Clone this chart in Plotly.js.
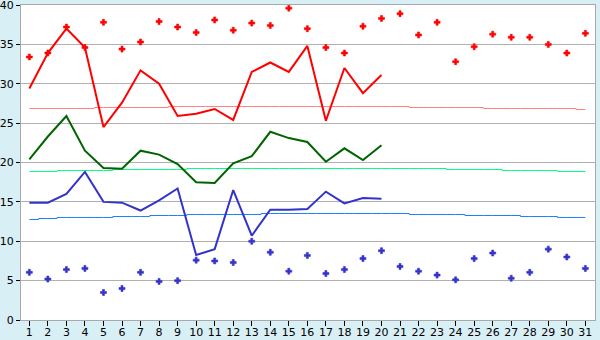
<!DOCTYPE html>
<html>
<head>
<meta charset="utf-8">
<script src="https://cdn.plot.ly/plotly-3.0.1.min.js"></script>
<style>
  html, body { margin: 0; padding: 0; background: #d9eff6; }
  #chart { width: 600px; height: 340px; }
</style>
</head>
<body>
<div id="chart"></div>
<script>
const days = [1,2,3,4,5,6,7,8,9,10,11,12,13,14,15,16,17,18,19,20,21,22,23,24,25,26,27,28,29,30,31];
const lineDays = [1,2,3,4,5,6,7,8,9,10,11,12,13,14,15,16,17,18,19,20];

// daily max line (red), mean line (green), min line (blue) for days 1-20
const maxLine = [29.4,33.9,37.0,34.6,24.5,27.6,31.7,30.0,25.9,26.2,26.8,25.4,31.5,32.7,31.5,34.8,25.3,32.0,28.8,31.1];
const meanLine = [20.4,23.3,25.9,21.5,19.3,19.2,21.5,21.0,19.8,17.5,17.4,19.9,20.8,23.9,23.1,22.6,20.1,21.8,20.3,22.2];
const minLine = [14.9,14.9,16.0,18.8,15.0,14.9,13.9,15.2,16.7,8.25,9.0,16.5,10.7,14.0,14.0,14.1,16.3,14.8,15.5,15.4];

// record-like markers for all 31 days
const maxPoints = [33.4,33.9,37.2,34.6,37.8,34.4,35.3,37.9,37.2,36.5,38.1,36.8,37.7,37.4,39.6,37.0,34.6,33.9,37.3,38.3,38.9,36.2,37.8,32.8,34.7,36.3,35.9,35.9,35.0,33.9,36.4];
const minPoints = [6.05,5.2,6.4,6.55,3.5,4.0,6.05,4.9,5.0,7.6,7.5,7.3,10.0,8.6,6.2,8.2,5.9,6.4,7.8,8.8,6.8,6.2,5.7,5.1,7.8,8.5,5.3,6.05,9.0,8.0,6.55];

// normal curves
const normalMax = [26.86,26.86,26.86,26.86,26.98,26.98,26.98,26.98,27.11,27.11,27.11,27.11,27.11,27.11,27.11,27.11,27.11,27.11,27.11,27.11,27.11,26.98,26.98,26.98,26.98,26.86,26.86,26.86,26.86,26.86,26.73];
const normalMean = [18.86,18.86,18.98,18.98,18.98,19.11,19.11,19.11,19.11,19.24,19.24,19.24,19.24,19.24,19.24,19.24,19.24,19.24,19.24,19.24,19.24,19.24,19.24,19.11,19.11,19.11,18.98,18.98,18.98,18.86,18.86];
const normalMin = [12.76,12.89,13.02,13.02,13.02,13.14,13.14,13.27,13.27,13.40,13.40,13.40,13.40,13.52,13.52,13.52,13.52,13.52,13.52,13.52,13.52,13.40,13.40,13.40,13.27,13.27,13.27,13.14,13.14,13.02,13.02];

const tickLabels = days.map(String);

const traces = [
  {x: days, y: normalMax, mode: 'lines', line: {color: '#ff8080', width: 1, shape: 'hvh'}, hoverinfo: 'skip'},
  {x: days, y: normalMean, mode: 'lines', line: {color: '#00ff80', width: 1, shape: 'hvh'}, hoverinfo: 'skip'},
  {x: days, y: normalMin, mode: 'lines', line: {color: '#1e7cff', width: 1, shape: 'hvh'}, hoverinfo: 'skip'},
  {x: lineDays, y: maxLine, mode: 'lines', line: {color: '#ff0000', width: 2}},
  {x: lineDays, y: meanLine, mode: 'lines', line: {color: '#006400', width: 2}},
  {x: lineDays, y: minLine, mode: 'lines', line: {color: '#3333cc', width: 2}},
  {x: days, y: maxPoints, mode: 'markers', marker: {color: '#ff0000', symbol: 'cross', size: 5, line: {width: 0.6, color: '#ff0000'}}},
  {x: days, y: minPoints, mode: 'markers', marker: {color: '#3333cc', symbol: 'cross', size: 5, line: {width: 0.6, color: '#3333cc'}}}
];

const layout = {
  width: 600, height: 340,
  margin: {l: 21, r: 5, t: 5, b: 20, pad: 0},
  paper_bgcolor: '#d9eff6',
  plot_bgcolor: '#ffffff',
  showlegend: false,
  font: {family: 'DejaVu Sans, Verdana, sans-serif', size: 11, color: '#000000'},
  xaxis: {
    range: [0.55, 31.52],
    tickmode: 'array', tickvals: days, ticktext: tickLabels,
    showgrid: false, zeroline: false,
    showline: true, linecolor: '#a8a8a8', linewidth: 1, mirror: true,
    ticks: 'outside', ticklen: 5, tickcolor: '#000000', tickwidth: 1,
    ticklabelstandoff: -3,
    ticklabeloverflow: 'allow',
    tickfont: {size: 11}
  },
  yaxis: {
    range: [0, 40], dtick: 5, tick0: 0,
    showgrid: true, gridcolor: '#b0b0b0', gridwidth: 1,
    zeroline: false,
    showline: true, linecolor: '#a8a8a8', linewidth: 1, mirror: true,
    ticks: 'outside', ticklen: 4, tickcolor: '#000000', tickwidth: 1,
    ticklabeloverflow: 'allow',
    tickfont: {size: 11}
  }
};

Plotly.newPlot('chart', traces, layout, {staticPlot: true, displayModeBar: false});
</script>
</body>
</html>
